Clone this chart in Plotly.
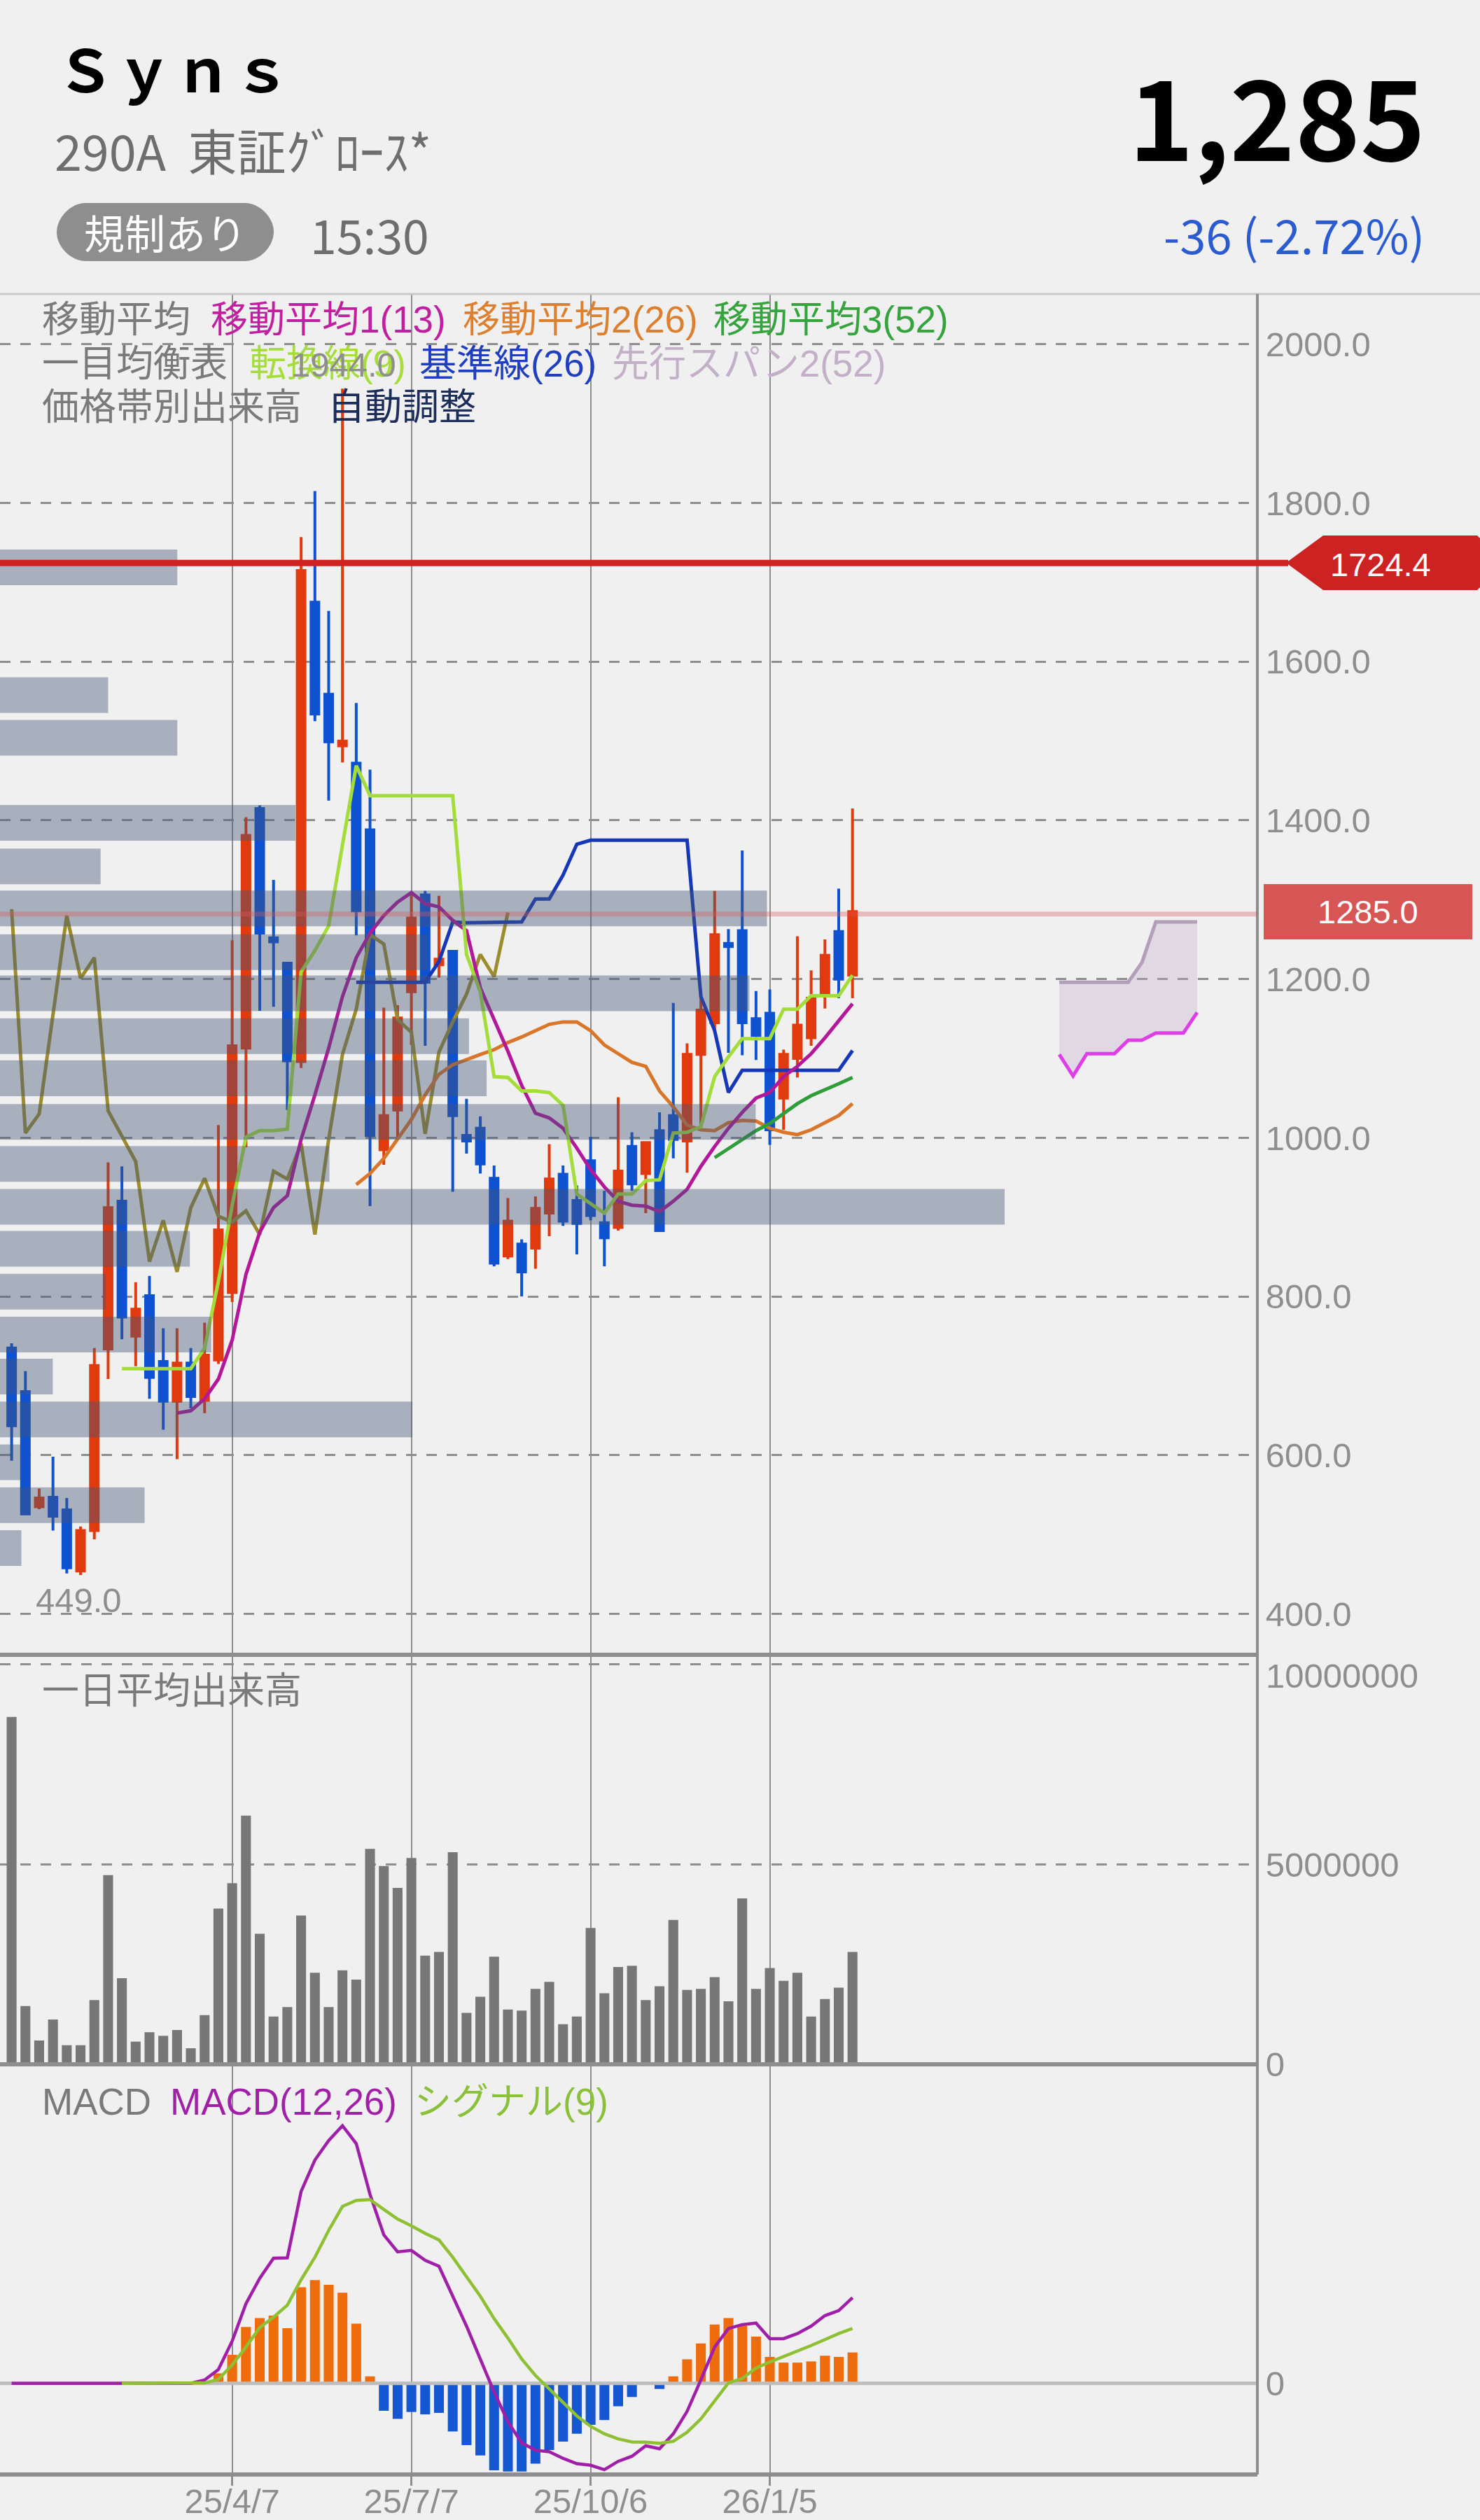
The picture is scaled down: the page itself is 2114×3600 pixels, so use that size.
import plotly.graph_objects as go

W, H = 2114, 3600
AXIS_X = 1796
FONT = '"Liberation Sans", "Noto Sans CJK JP"'
CJK = '"Noto Sans CJK JP"'
BG = '#f0f0f0'
GRAY = '#8e8e8e'
RED = '#e03a0e'
BLUE = '#0e52d2'

# weekly candles, oldest first
OPEN = [735, 680, 535, 547, 531, 454, 505, 734, 920, 750, 801, 718, 668, 716, 669, 720, 805, 1113, 1415, 1252,
        1220, 1096, 1675, 1559, 1494, 1472, 1388, 985, 1035, 1184, 1306, 1218, 1235, 1003, 1012, 949, 851, 866,
        861, 905, 954, 921, 971, 893, 887, 989, 955, 1009, 1028, 996, 1105, 1145, 1245, 1261, 1150, 1157, 1050,
        1100, 1126, 1180, 1260, 1205]
HIGH = [741, 706, 558, 598, 546, 510, 735, 969, 964, 818, 826, 760, 760, 735, 767, 1016, 1249, 1404, 1419, 1325,
        1220, 1757, 1815, 1664, 1944, 1548, 1464, 1164, 1167, 1309, 1311, 1305, 1235, 1049, 1027, 965, 924, 872,
        926, 992, 965, 940, 1001, 933, 1051, 1007, 994, 1032, 1170, 1119, 1186, 1311, 1263, 1362, 1185, 1187, 1111,
        1254, 1211, 1250, 1314, 1415]
LOW = [593, 526, 532, 505, 451, 449, 494, 696, 746, 712, 671, 632, 595, 659, 653, 715, 793, 988, 1160, 1165,
       1035, 1088, 1525, 1425, 1473, 1255, 914, 966, 998, 1117, 1116, 1202, 932, 980, 955, 838, 847, 800,
       835, 876, 889, 853, 896, 838, 883, 933, 905, 883, 974, 956, 1016, 1133, 1107, 1104, 1098, 991, 1010,
       1076, 1116, 1163, 1176, 1176]
CLOSE = [637, 526, 546, 523, 458, 505, 713, 912, 774, 784, 698, 668, 716, 674, 726, 884, 1116, 1381, 1258, 1247,
         1097, 1715, 1534, 1499, 1500, 1286, 1003, 1028, 1151, 1277, 1196, 1225, 1028, 996, 967, 842, 895, 831,
         911, 948, 895, 892, 902, 874, 958, 942, 994, 883, 998, 1105, 1161, 1256, 1241, 1145, 1129, 1010, 1105,
         1142, 1176, 1230, 1200, 1285]
WEEKS = list(range(len(OPEN)))

MA13 = [None] * 12 + [653, 656, 671, 696, 745, 828, 881, 912, 927, 998, 1054, 1113, 1178, 1227, 1258, 1280, 1297,
                      1309, 1295, 1291, 1274, 1261, 1189, 1149, 1109, 1066, 1031, 1025, 1012, 987, 960, 938, 920,
                      915, 914, 907, 920, 935, 964, 989, 1012, 1032, 1050, 1057, 1077, 1090, 1106, 1126, 1148, 1169]
MA26 = [None] * 25 + [941, 955, 974, 998, 1023, 1054, 1080, 1092, 1099, 1105, 1111, 1120, 1127, 1135, 1143, 1146,
                      1146, 1135, 1117, 1106, 1095, 1090, 1059, 1039, 1016, 1010, 1009, 1019, 1022, 1021, 1012, 1007,
                      1004, 1010, 1019, 1028, 1043]
MA52 = [None] * 51 + [975, 986, 998, 1009, 1018, 1031, 1043, 1053, 1060, 1068, 1076]
TENKAN = [None] * 8 + [709, 709, 709, 709, 709, 709, 735, 819, 915, 1001, 1009, 1009, 1011, 1209, 1236, 1267, 1369,
                       1469, 1431, 1431, 1431, 1431, 1431, 1431, 1431, 1231, 1184, 1077, 1076, 1059, 1059, 1057, 1041,
                       929, 917, 905, 929, 929, 946, 947, 1006, 1007, 1014, 1077, 1102, 1125, 1125, 1125, 1162, 1162,
                       1179, 1179, 1179, 1205]
KIJUN = [None] * 25 + [1196, 1196, 1196, 1196, 1196, 1196, 1222, 1272, 1271, 1271, 1271, 1271, 1272, 1301, 1301, 1331,
                       1370, 1375, 1375, 1375, 1375, 1375, 1375, 1375, 1375, 1178, 1135, 1057, 1085, 1085, 1085, 1085,
                       1085, 1085, 1085, 1085, 1110]
CHIKOU = [1288, 1006, 1030, 1159, 1280, 1201, 1227, 1034, 1001, 970, 844, 896, 831, 912, 949, 901, 894, 908, 878, 958,
          948, 993, 878, 998, 1105, 1162, 1256, 1244, 1149, 1133, 1005, 1108, 1146, 1181, 1231, 1203, 1284]
CLOUD_WEEKS = list(range(76, 87))
SPAN2 = [1196, 1196, 1196, 1196, 1196, 1196, 1221, 1272, 1272, 1272, 1272]
SPAN1 = [1105, 1078, 1106, 1106, 1106, 1123, 1123, 1132, 1132, 1132, 1158]

# volume at price, % of panel width
PROFILE_PRICE = [1719, 1558, 1504, 1397, 1342, 1289, 1234, 1182, 1128, 1075, 1020, 967, 913, 860, 806, 752, 699, 645,
                 591, 537, 483]
PROFILE_VOL = [14.1, 8.6, 14.1, 23.5, 8.0, 61.0, 34.0, 59.6, 37.3, 38.7, 60.1, 26.2, 79.9, 15.1, 8.4, 16.8, 4.2, 32.8,
               1.7, 11.5, 1.7]

VOLUME = [8687000, 1459000, 595000, 1120000, 477000, 477000, 1604000, 4731000, 2151000, 567000, 802000, 712000,
          858000, 401000, 1231000, 3894000, 4530000, 6217000, 3264000, 1196000, 1432000, 3721000, 2289000, 1432000,
          2351000, 2116000, 5388000, 4959000, 4412000, 5159000, 2718000, 2808000, 5305000, 1286000, 1688000, 2690000,
          1369000, 1342000, 1888000, 2061000, 1003000, 1196000, 3410000, 1777000, 2434000, 2462000, 1604000, 1950000,
          3610000, 1860000, 1888000, 2178000, 1577000, 4150000, 1888000, 2407000, 2089000, 2289000, 1196000, 1632000,
          1916000, 2808000]

MACD = [0] * 14 + [2.75, 11.5, 35.25, 66.5, 87.75, 104.5, 104.75, 160.25, 186.5, 202.75, 215.25, 200.25, 157.75, 124,
                   109.75, 111, 102.75, 97.75, 72.75, 47.75, 20.25, -7.25, -32.25, -49.75, -56, -57.25, -62.75, -67.25,
                   -68.5, -72.25, -65.25, -61, -52.25, -54.75, -42.25, -23.5, 2.75, 30.25, 45.75, 49, 50.25, 37.25,
                   37.25, 41.5, 47.75, 56.5, 60.75, 71.5]
SIGNAL = [None] * 8 + [0, 0, 0, 0, 0, 0, 0.25, 3.25, 15.25, 30.25, 46.5, 55.25, 65.25, 86.5, 105.25, 127.75, 147.75,
                       152.75, 153.5, 145.25, 137.25, 131.5, 125.25, 119.75, 105.25, 89, 72.75, 54, 37.75, 20.25, 6.5,
                       -4.75, -16, -27.25, -36, -42.25, -46.5, -49, -49.25, -50.25, -48.5, -41, -29.75, -14.75, 0.25,
                       4, 12.75, 17.75, 22.25, 26.5, 31.5, 36.5, 41.5, 45.75]
HIST = [0] * 15 + [8.25, 23.75, 47, 54.5, 56.5, 46, 80.25, 86.25, 82.25, 75.75, 49.75, 5.75, -23, -29.75, -24, -26,
                   -24.75, -40.25, -51.75, -60.25, -72.75, -73.75, -73.75, -67.25, -55.75, -48.75, -42.25, -34.75,
                   -30.75, -19.25, -11.5, 0, -4.75, 5.75, 20, 33.25, 49, 54.5, 48.25, 39, 22, 17.25, 17.25, 18.25, 23,
                   22, 25.75]

PRICE_TICKS = [400, 600, 800, 1000, 1200, 1400, 1600, 1800, 2000]
VOLUME_TICKS = [0, 5000000, 10000000]
VOLUME_TICK_TEXT = ['0', '5000000', '']
DATE_TICKS = [16, 29, 42, 55]
DATE_TEXT = ['25/4/7', '25/7/7', '25/10/6', '26/1/5']
RESISTANCE = 1724.4
LAST_LINE = 1282

X_RANGE = [-0.843, 90.37]
PRICE_RANGE = [348.4, 2063.4]
VOLUME_RANGE = [0, 10240000]
MACD_RANGE = [-76.25, 266.5]


def px_x(x):
    return x / W


def px_y(y):
    return 1 - y / H


fig = go.Figure()

fig.add_trace(go.Candlestick(
    x=WEEKS, open=OPEN, high=HIGH, low=LOW, close=CLOSE,
    increasing=dict(line=dict(color=RED, width=4), fillcolor=RED),
    decreasing=dict(line=dict(color=BLUE, width=4), fillcolor=BLUE),
    whiskerwidth=0, hoverinfo='skip',
))

# kumo fill first so the lines stay on top of it
fig.add_trace(go.Scatter(x=CLOUD_WEEKS, y=SPAN1, mode='lines', line=dict(color='#e03ce8', width=5)))
fig.add_trace(go.Scatter(x=CLOUD_WEEKS, y=SPAN2, mode='lines', line=dict(color='#b49fba', width=5),
                         fill='tonexty', fillcolor='rgba(190,165,195,0.32)'))

for values, color in [(CHIKOU, '#9c8c2c'), (MA26, '#d9762a'), (MA52, '#2f9e3a'), (KIJUN, '#1537b8'),
                      (MA13, '#b4189a'), (TENKAN, '#a4dc3a')]:
    fig.add_trace(go.Scatter(x=WEEKS, y=values, mode='lines', line=dict(color=color, width=5)))

# overlay axes so the profile bars lie over the candles
fig.add_trace(go.Bar(
    x=PROFILE_VOL, y=PROFILE_PRICE, orientation='h', width=45,
    marker=dict(color='rgba(70,85,120,0.42)', line=dict(width=0)),
    xaxis='x4', yaxis='y4',
))

fig.add_trace(go.Bar(x=WEEKS, y=VOLUME, width=0.716, marker=dict(color='#777777', line=dict(width=0)),
                     xaxis='x2', yaxis='y2'))

fig.add_trace(go.Bar(
    x=WEEKS, y=HIST, width=0.716,
    marker=dict(color=['#ee6c0c' if v >= 0 else '#1557d3' for v in HIST], line=dict(width=0)),
    xaxis='x3', yaxis='y3',
))
fig.add_trace(go.Scatter(x=X_RANGE, y=[0, 0], mode='lines', line=dict(color='#bdbdbd', width=5),
                         xaxis='x3', yaxis='y3'))
fig.add_trace(go.Scatter(x=WEEKS, y=MACD, mode='lines', line=dict(color='#a01fa8', width=4.5), xaxis='x3', yaxis='y3'))
fig.add_trace(go.Scatter(x=WEEKS, y=SIGNAL, mode='lines', line=dict(color='#8fc034', width=4.5), xaxis='x3', yaxis='y3'))

x_common = dict(
    range=X_RANGE, domain=[0, AXIS_X / W], tickmode='array', tickvals=DATE_TICKS, automargin=False,
    showgrid=True, gridcolor=GRAY, gridwidth=2, zeroline=False, showline=False, fixedrange=True,
)
y_common = dict(
    side='right', tickmode='array', showgrid=True, gridcolor=GRAY, gridwidth=3, griddash='15px,14px',
    zeroline=False, showline=False, ticks='outside', ticklen=1, tickcolor='rgba(0,0,0,0)', automargin=False,
    tickfont=dict(family=FONT, size=49, color=GRAY), fixedrange=True,
)

fig.update_layout(
    width=W, height=H, autosize=False,
    margin=dict(l=0, r=0, t=0, b=0),
    paper_bgcolor=BG, plot_bgcolor=BG,
    showlegend=False, hovermode=False,
    boxgap=0.2, boxgroupgap=0.3, barmode='overlay',
    xaxis=dict(x_common, anchor='y', showticklabels=False, rangeslider=dict(visible=False)),
    xaxis2=dict(x_common, anchor='y2', showticklabels=False),
    xaxis3=dict(x_common, anchor='y3', ticktext=DATE_TEXT, ticks='outside', ticklen=15, tickwidth=3,
                tickcolor=GRAY, tickfont=dict(family=FONT, size=49, color=GRAY), ticklabelstandoff=-20),
    xaxis4=dict(overlaying='x', anchor='y4', range=[0, 100], domain=[0, AXIS_X / W], visible=False, fixedrange=True,
                automargin=False),
    yaxis=dict(y_common, anchor='x', domain=[px_y(2364), px_y(420)], range=PRICE_RANGE, tickvals=PRICE_TICKS,
               tickformat='.1f'),
    yaxis2=dict(y_common, anchor='x2', domain=[px_y(2949), px_y(2364)], range=VOLUME_RANGE, tickvals=VOLUME_TICKS,
                ticktext=VOLUME_TICK_TEXT),
    yaxis3=dict(y_common, anchor='x3', domain=[px_y(3535), px_y(2949)], range=MACD_RANGE, tickvals=[0],
                ticktext=['0'], showgrid=False),
    yaxis4=dict(overlaying='y', anchor='x4', side='right', domain=[px_y(2364), px_y(420)], range=PRICE_RANGE,
                visible=False, fixedrange=True, automargin=False),
)

# panel frame
for y0, x1, width, color in [(420, W, 3, '#c8c8c8'), (2364, AXIS_X, 6, GRAY), (2949, AXIS_X, 6, GRAY),
                             (3535, AXIS_X, 6, GRAY)]:
    fig.add_shape(type='line', xref='paper', yref='paper', x0=0, x1=px_x(x1), y0=px_y(y0), y1=px_y(y0),
                  line=dict(color=color, width=width), layer='above')
fig.add_shape(type='line', xref='paper', yref='paper', x0=px_x(AXIS_X), x1=px_x(AXIS_X), y0=px_y(420), y1=px_y(3535),
              line=dict(color=GRAY, width=4), layer='above')

# price lines
fig.add_shape(type='line', xref='x', yref='y', x0=X_RANGE[0], x1=X_RANGE[1], y0=LAST_LINE, y1=LAST_LINE,
              line=dict(color='rgba(215,90,90,0.35)', width=7), layer='above')
fig.add_shape(type='line', xref='paper', yref='y', x0=0, x1=px_x(1840), y0=RESISTANCE, y1=RESISTANCE,
              line=dict(color='#cc2222', width=9), layer='above')


def paper_path(points):
    return 'M ' + ' L '.join(f'{px_x(x)} {px_y(y)}' for x, y in points) + ' Z'


fig.add_shape(type='path', xref='paper', yref='paper', layer='above', line=dict(width=0), fillcolor='#cc2222',
              path=paper_path([(1837, 804), (1890, 765), (2110, 765), (2114, 769), (2114, 839), (2110, 843),
                               (1890, 843)]))
fig.add_shape(type='path', xref='paper', yref='paper', layer='above', line=dict(width=0), fillcolor='#d65555',
              path=paper_path([(1805, 1263), (2103, 1263), (2103, 1342), (1805, 1342)]))

# 規制あり pill
l, r, t, b, k = 81, 391, 290, 373, 41
pill = (f'M {px_x(l + k)} {px_y(t)} L {px_x(r - k)} {px_y(t)} '
        f'C {px_x(r - k / 2)} {px_y(t)} {px_x(r)} {px_y(t + k / 2)} {px_x(r)} {px_y(t + k)} '
        f'C {px_x(r)} {px_y(b - k / 2)} {px_x(r - k / 2)} {px_y(b)} {px_x(r - k)} {px_y(b)} '
        f'L {px_x(l + k)} {px_y(b)} '
        f'C {px_x(l + k / 2)} {px_y(b)} {px_x(l)} {px_y(b - k / 2)} {px_x(l)} {px_y(b - k)} '
        f'C {px_x(l)} {px_y(t + k / 2)} {px_x(l + k / 2)} {px_y(t)} {px_x(l + k)} {px_y(t)} Z')
fig.add_shape(type='path', xref='paper', yref='paper', path=pill, fillcolor='#8e8e8e', line=dict(width=0),
              layer='above')


def label(text, x, y, size, color, anchor='left', family=FONT):
    fig.add_annotation(text=text, xref='paper', yref='paper', x=px_x(x), y=px_y(y), xanchor=anchor, yanchor='middle',
                       showarrow=False, font=dict(family=family, size=size, color=color), borderpad=0, borderwidth=0)


# header
label('<b>Ｓｙｎｓ</b>', 80, 96, 84, '#000000', family=CJK)
label('290A  東証ｸﾞﾛｰｽ*', 78, 214, 70, '#6e6e6e', family=CJK)
label('規制あり', 236, 331, 58, '#ffffff', anchor='center', family=CJK)
label('15:30', 443, 333, 68, '#6e6e6e', family=CJK)
label('<b>1,285</b>', 2036, 161, 158, '#000000', anchor='right', family=CJK)
label('-36 (-2.72%)', 2035, 333, 67, '#2a5bd0', anchor='right', family=CJK)

# indicator legends
for text, x, y, color in [
    ('移動平均', 60, 457, '#7a7a7a'), ('移動平均1(13)', 301, 457, '#c0209f'), ('移動平均2(26)', 661, 457, '#dc8030'),
    ('移動平均3(52)', 1019, 457, '#37a33e'),
    ('一目均衡表', 60, 519, '#7a7a7a'), ('転換線(9)', 356, 519, '#a6dd3c'), ('基準線(26)', 599, 519, '#1f3fc0'),
    ('先行スパン2(52)', 874, 519, '#c4afc8'),
    ('価格帯別出来高', 60, 581, '#7a7a7a'), ('自動調整', 468, 581, '#1c2d5a'),
    ('一日平均出来高', 60, 2415, '#7a7a7a'),
    ('MACD', 60, 3002, '#7a7a7a'), ('MACD(12,26)', 243, 3002, '#a020a8'), ('シグナル(9)', 592, 3002, '#8bc03a'),
]:
    label(text, x, y, 53, color)

label('1944.0', 491, 521, 49, GRAY, anchor='center')
label('449.0', 112, 2286, 49, GRAY, anchor='center')
label('10000000', 1808, 2394, 49, GRAY)
label('1724.4', 1972, 806, 47, '#ffffff', anchor='center')
label('1285.0', 1954, 1303, 47, '#ffffff', anchor='center')

fig.write_html("out.html", config=dict(displayModeBar=False),
               post_script="document.body.style.margin = '0'; document.documentElement.style.overflow = 'hidden';")
